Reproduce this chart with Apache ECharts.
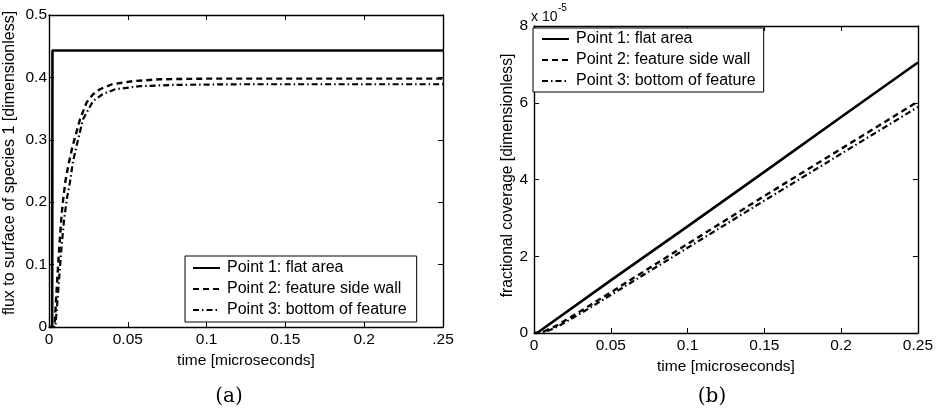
<!DOCTYPE html>
<html>
<head>
<meta charset="utf-8">
<script src="https://cdn.jsdelivr.net/npm/echarts@6/dist/echarts.min.js"></script>
<style>
html,body{margin:0;padding:0;background:#fff;}
#chart{width:936px;height:413px;}
</style>
</head>
<body>
<div id="chart"></div>
<script>
// ---------- data ----------
var seriesNames = ['Point 1: flat area', 'Point 2: feature side wall', 'Point 3: bottom of feature'];

// (a) flux to surface of species 1 vs time
var fluxTime1 = [0, 0.002, 0.0022, 0.25];
var flux1     = [0, 0, 0.443, 0.443];
var fluxTime2 = [0, 0.0035, 0.0045, 0.0057, 0.007, 0.008, 0.009, 0.0105, 0.0125, 0.0145, 0.0165, 0.0197, 0.0239, 0.028, 0.0323, 0.04, 0.0533, 0.07, 0.1, 0.25];
var flux2     = [0, 0, 0.045, 0.095, 0.145, 0.18, 0.205, 0.235, 0.262, 0.285, 0.304, 0.333, 0.360, 0.373, 0.381, 0.389, 0.394, 0.397, 0.398, 0.398];
var fluxTime3 = [0, 0.004, 0.005, 0.0065, 0.008, 0.0095, 0.0113, 0.0133, 0.0152, 0.0184, 0.0216, 0.0279, 0.034, 0.042, 0.0577, 0.08, 0.12, 0.25];
var flux3     = [0, 0, 0.03, 0.08, 0.13, 0.17, 0.205, 0.232, 0.265, 0.300, 0.333, 0.362, 0.373, 0.381, 0.386, 0.388, 0.389, 0.389];

// (b) fractional coverage (units of 1e-5) vs time
var covTime1 = [0, 0.002, 0.05, 0.1, 0.15, 0.2, 0.25];
var cov1E5   = [0, 0, 1.37, 2.78, 4.2, 5.63, 7.05];
var covTime2 = [0, 0.004, 0.01, 0.015, 0.02, 0.03, 0.05, 0.1, 0.15, 0.2, 0.25];
var cov2E5   = [0, 0, 0.1, 0.2, 0.32, 0.56, 1.06, 2.32, 3.57, 4.8, 6.03];
var covTime3 = [0, 0.004, 0.01, 0.015, 0.02, 0.03, 0.05, 0.1, 0.15, 0.2, 0.25];
var cov3E5   = [0, 0, 0.07, 0.16, 0.27, 0.5, 0.99, 2.22, 3.45, 4.67, 5.89];

// tick labels
var xTickLabelsA = ['0', '0.05', '0.1', '0.15', '0.2', '.25'];
var yTickLabelsA = ['0', '0.1', '0.2', '0.3', '0.4', '0.5'];
var xTickLabelsB = ['0', '0.05', '0.1', '0.15', '0.2', '0.25'];
var yTickLabelsB = ['0', '2', '4', '6', '8'];

// ---------- chart ----------
function pairs(xs, ys) { return xs.map(function (x, i) { return [x, ys[i]]; }); }
var FONT = '"Liberation Sans", Arial, Helvetica, sans-serif';
var BLACK = '#000';
var axisLine = { show: true, onZero: false, lineStyle: { color: BLACK, width: 1.4 } };
var tick = { show: true, inside: true, length: 5, lineStyle: { color: BLACK, width: 1 } };
var lbl = { color: BLACK, fontSize: 15.5, fontFamily: FONT };

function xAx(grid, labels, pos, withName) {
  return {
    gridIndex: grid, type: 'value', min: 0, max: 0.25, interval: 0.05, position: pos,
    axisLine: axisLine, axisTick: tick, splitLine: { show: false },
    axisLabel: withName ? Object.assign({ margin: 5, formatter: function (v) { return labels[Math.round(v / 0.05)]; } }, lbl) : { show: false },
    name: withName ? 'time [microseconds]' : '', nameLocation: 'middle', nameGap: 20,
    nameTextStyle: { color: BLACK, fontSize: 15.5, fontFamily: FONT }
  };
}
function yAx(grid, labels, max, step, pos, name, nameGap, margin, nameSize, namePad) {
  return {
    gridIndex: grid, type: 'value', min: 0, max: max, interval: step, position: pos,
    axisLine: axisLine, axisTick: tick, splitLine: { show: false },
    axisLabel: name ? Object.assign({ margin: margin, formatter: function (v) { return labels[Math.round(v / step)]; } }, lbl) : { show: false },
    name: name || '', nameLocation: 'middle', nameGap: nameGap,
    nameTextStyle: { color: BLACK, fontSize: nameSize || 15, fontFamily: FONT, padding: [0, 0, 0, namePad || 0] }
  };
}

var dashStyles = ['solid', [6, 4], [6, 3, 1.5, 3]];
var widths = [2.6, 2.4, 2.2];
function line(name, idx, axisIdx, data) {
  return {
    name: name, type: 'line', xAxisIndex: axisIdx, yAxisIndex: axisIdx, data: data,
    symbol: 'none', showSymbol: false, silent: true, color: BLACK,
    itemStyle: { color: BLACK, opacity: 0 },
    lineStyle: { color: BLACK, width: widths[idx], type: dashStyles[idx], opacity: 1 }
  };
}

var legendBase = {
  orient: 'vertical', itemWidth: 27, itemHeight: 2, itemGap: 5,
  borderColor: BLACK, borderWidth: 1, backgroundColor: '#fff',
  itemStyle: { opacity: 0, borderWidth: 0 },
  textStyle: { color: BLACK, fontSize: 16, fontFamily: FONT, padding: [0, 0, 0, 2] },
  data: seriesNames, selectedMode: false
};

var option = {
  animation: false,
  backgroundColor: '#fff',
  grid: [
    { left: 49, top: 15, width: 394, height: 312 },
    { left: 534, top: 26, width: 388, height: 307 }
  ],
  legend: [
    Object.assign({ left: 185, top: 256, padding: [4, 10, 4, 7] }, legendBase),
    Object.assign({ left: 533, top: 28, padding: [3, 8, 3, 8] }, legendBase)
  ],
  xAxis: [
    xAx(0, xTickLabelsA, 'bottom', true),
    xAx(0, xTickLabelsA, 'top', false),
    xAx(1, xTickLabelsB, 'bottom', true),
    xAx(1, xTickLabelsB, 'top', false)
  ],
  yAxis: [
    yAx(0, yTickLabelsA, 0.5, 0.1, 'left', 'flux to surface of species 1 [dimensionless]', 31, 2, 16, 16),
    yAx(0, yTickLabelsA, 0.5, 0.1, 'right', null, 0, 0),
    yAx(1, yTickLabelsB, 8, 2, 'left', 'fractional coverage [dimensionless]', 15, 6, 15.6, 8),
    yAx(1, yTickLabelsB, 8, 2, 'right', null, 0, 0)
  ],
  series: [
    line(seriesNames[0], 0, 0, pairs(fluxTime1, flux1)),
    line(seriesNames[1], 1, 0, pairs(fluxTime2, flux2)),
    line(seriesNames[2], 2, 0, pairs(fluxTime3, flux3)),
    line(seriesNames[0], 0, 2, pairs(covTime1, cov1E5)),
    line(seriesNames[1], 1, 2, pairs(covTime2, cov2E5)),
    line(seriesNames[2], 2, 2, pairs(covTime3, cov3E5))
  ],
  graphic: [
    { type: 'text', x: 229, y: 397, style: { text: '(a)', fill: BLACK, font: '20px "DejaVu Serif", "Liberation Serif", serif', textAlign: 'center', textVerticalAlign: 'middle' } },
    { type: 'text', x: 712, y: 397, style: { text: '(b)', fill: BLACK, font: '20px "DejaVu Serif", "Liberation Serif", serif', textAlign: 'center', textVerticalAlign: 'middle' } },
    { type: 'text', x: 531, y: 17, style: { text: 'x 10', fill: BLACK, font: '14px "Liberation Sans", Arial, sans-serif', textAlign: 'left', textVerticalAlign: 'middle' } },
    { type: 'text', x: 558, y: 8, style: { text: '-5', fill: BLACK, font: '10px "Liberation Sans", Arial, sans-serif', textAlign: 'left', textVerticalAlign: 'middle' } }
  ]
};

var chart = echarts.init(document.getElementById('chart'), null, { renderer: 'canvas' });
chart.setOption(option);
</script>
</body>
</html>
